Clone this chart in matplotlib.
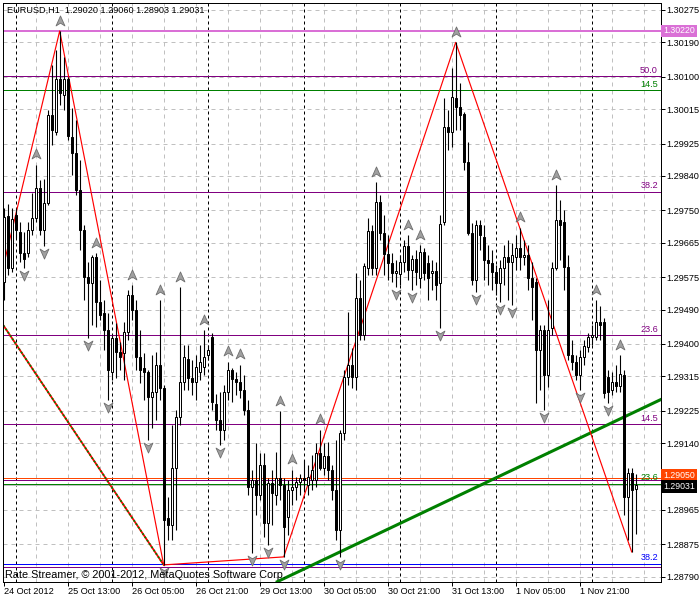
import matplotlib
matplotlib.use("Agg")
import matplotlib.pyplot as plt
from matplotlib.path import Path
from matplotlib.transforms import blended_transform_factory, offset_copy
import numpy as np

plt.rcParams['font.family'] = ['Liberation Sans', 'DejaVu Sans']

# ---------------- data (EURUSD H1) ----------------
opens = [
    1.29562, 1.29735, 1.29599, 1.29738, 1.29693, 1.29638, 1.29638, 1.29698, 1.29730, 1.29808,
    1.29698, 1.29769, 1.29999, 1.29955, 1.30094, 1.30052, 1.30094, 1.29942, 1.29900, 1.29803,
    1.29698, 1.29575, 1.29560, 1.29627, 1.29510, 1.29481, 1.29436, 1.29326, 1.29415, 1.29379,
    1.29376, 1.29431, 1.29527, 1.29489, 1.29366, 1.29337, 1.29326, 1.29261, 1.29274, 1.29345,
    1.29284, 1.28944, 1.28925, 1.29075, 1.29209, 1.29300, 1.29360, 1.29311, 1.29300, 1.29326,
    1.29339, 1.29371, 1.29418, 1.29243, 1.29201, 1.29175, 1.29274, 1.29332, 1.29308, 1.29300,
    1.29279, 1.29227, 1.29025, 1.29043, 1.29004, 1.29083, 1.28931, 1.29036, 1.29004, 1.29049,
    1.29030, 1.28946, 1.29017, 1.29025, 1.29038, 1.29049, 1.29030, 1.29043, 1.29043, 1.29114,
    1.29075, 1.29106, 1.29070, 1.29017, 1.28912, 1.29167, 1.29313, 1.29345, 1.29313, 1.29519,
    1.29423, 1.29599, 1.29696, 1.29599, 1.29772, 1.29691, 1.29635, 1.29612, 1.29586, 1.29583,
    1.29614, 1.29656, 1.29593, 1.29622, 1.29573, 1.29641, 1.29612, 1.29586, 1.29591, 1.29560,
    1.29719, 1.29968, 1.29955, 1.30044, 1.30021, 1.30002, 1.29877, 1.29691, 1.29567, 1.29711,
    1.29680, 1.29619, 1.29612, 1.29588, 1.29560, 1.29599, 1.29627, 1.29614, 1.29627, 1.29651,
    1.29627, 1.29633, 1.29573, 1.29562, 1.29384, 1.29436, 1.29319, 1.29442, 1.29599, 1.29725,
    1.29719, 1.29601, 1.29371, 1.29353, 1.29319, 1.29366, 1.29392, 1.29418, 1.29418, 1.29457,
    1.29457, 1.29313, 1.29279, 1.29300, 1.29290, 1.29319, 1.28999, 1.29062, 1.29020]
highs = [
    1.29756, 1.29767, 1.29756, 1.29756, 1.29719, 1.29693, 1.29719, 1.29795, 1.29869, 1.29829,
    1.29832, 1.30013, 1.30131, 1.30170, 1.30220, 1.30152, 1.30099, 1.30018, 1.29987, 1.29882,
    1.29711, 1.29614, 1.29633, 1.29638, 1.29567, 1.29515, 1.29481, 1.29423, 1.29455, 1.29405,
    1.29457, 1.29540, 1.29554, 1.29515, 1.29436, 1.29376, 1.29332, 1.29371, 1.29379, 1.29515,
    1.29292, 1.28999, 1.29188, 1.29227, 1.29549, 1.29397, 1.29397, 1.29358, 1.29371, 1.29397,
    1.29436, 1.29397, 1.29429, 1.29269, 1.29274, 1.29292, 1.29353, 1.29337, 1.29326, 1.29345,
    1.29319, 1.29253, 1.29070, 1.29140, 1.29114, 1.29114, 1.29049, 1.29070, 1.29117, 1.29224,
    1.29049, 1.29043, 1.29070, 1.29051, 1.29059, 1.29096, 1.29083, 1.29109, 1.29140, 1.29175,
    1.29140, 1.29143, 1.29083, 1.29148, 1.29175, 1.29332, 1.29484, 1.29389, 1.29586, 1.29567,
    1.29612, 1.29730, 1.29711, 1.29824, 1.29790, 1.29738, 1.29685, 1.29638, 1.29619, 1.29633,
    1.29672, 1.29685, 1.29633, 1.29646, 1.29659, 1.29651, 1.29633, 1.29619, 1.29614, 1.29738,
    1.30044, 1.30013, 1.30123, 1.30190, 1.30084, 1.30008, 1.29929, 1.29717, 1.29725, 1.29725,
    1.29711, 1.29659, 1.29646, 1.29607, 1.29619, 1.29659, 1.29672, 1.29664, 1.29685, 1.29704,
    1.29672, 1.29659, 1.29614, 1.29573, 1.29450, 1.29450, 1.29515, 1.29614, 1.29816, 1.29777,
    1.29751, 1.29633, 1.29410, 1.29371, 1.29384, 1.29410, 1.29429, 1.29450, 1.29515, 1.29499,
    1.29468, 1.29332, 1.29326, 1.29345, 1.29371, 1.29332, 1.29075, 1.29075, 1.29060]
lows = [
    1.29515, 1.29580, 1.29588, 1.29677, 1.29614, 1.29599, 1.29627, 1.29685, 1.29719, 1.29685,
    1.29656, 1.29764, 1.29921, 1.29947, 1.30026, 1.30013, 1.29934, 1.29843, 1.29790, 1.29646,
    1.29515, 1.29415, 1.29450, 1.29444, 1.29463, 1.29384, 1.29253, 1.29305, 1.29311, 1.29332,
    1.29305, 1.29410, 1.29463, 1.29332, 1.29298, 1.29253, 1.29148, 1.29180, 1.29201, 1.29253,
    1.28821, 1.28886, 1.28886, 1.28912, 1.29188, 1.29279, 1.29279, 1.29266, 1.29253, 1.29305,
    1.29319, 1.29358, 1.29227, 1.29175, 1.29135, 1.29148, 1.29253, 1.29248, 1.29266, 1.29258,
    1.29214, 1.29004, 1.28852, 1.28952, 1.28991, 1.28894, 1.28873, 1.28925, 1.28978, 1.28991,
    1.28842, 1.28899, 1.28978, 1.28991, 1.29004, 1.29017, 1.29004, 1.29017, 1.29025, 1.29070,
    1.29057, 1.29043, 1.28991, 1.28886, 1.28842, 1.29148, 1.29292, 1.29284, 1.29279, 1.29410,
    1.29410, 1.29580, 1.29580, 1.29580, 1.29672, 1.29580, 1.29567, 1.29562, 1.29549, 1.29554,
    1.29588, 1.29567, 1.29540, 1.29554, 1.29546, 1.29567, 1.29515, 1.29540, 1.29515, 1.29442,
    1.29711, 1.29908, 1.29916, 1.29960, 1.29960, 1.29856, 1.29685, 1.29554, 1.29536, 1.29646,
    1.29567, 1.29554, 1.29540, 1.29527, 1.29510, 1.29554, 1.29515, 1.29502, 1.29593, 1.29593,
    1.29607, 1.29540, 1.29463, 1.29245, 1.29279, 1.29227, 1.29287, 1.29423, 1.29593, 1.29619,
    1.29540, 1.29358, 1.29332, 1.29305, 1.29279, 1.29345, 1.29379, 1.29397, 1.29410, 1.29410,
    1.29258, 1.29245, 1.29266, 1.29274, 1.29274, 1.28952, 1.28886, 1.28855, 1.28903]
closes = [
    1.29732, 1.29599, 1.29727, 1.29698, 1.29638, 1.29622, 1.29698, 1.29730, 1.29808, 1.29698,
    1.29769, 1.29999, 1.29960, 1.30094, 1.30057, 1.30094, 1.29945, 1.29900, 1.29803, 1.29698,
    1.29575, 1.29560, 1.29627, 1.29510, 1.29476, 1.29436, 1.29332, 1.29415, 1.29379, 1.29366,
    1.29431, 1.29527, 1.29489, 1.29366, 1.29332, 1.29326, 1.29261, 1.29274, 1.29345, 1.29284,
    1.28939, 1.28925, 1.29075, 1.29209, 1.29300, 1.29366, 1.29311, 1.29300, 1.29339, 1.29353,
    1.29366, 1.29384, 1.29248, 1.29201, 1.29175, 1.29274, 1.29332, 1.29308, 1.29300, 1.29279,
    1.29227, 1.29025, 1.29043, 1.29004, 1.29083, 1.28931, 1.29036, 1.29009, 1.29049, 1.29030,
    1.28920, 1.29017, 1.29025, 1.29038, 1.29049, 1.29043, 1.29051, 1.29070, 1.29114, 1.29075,
    1.29106, 1.29070, 1.29017, 1.28912, 1.29167, 1.29313, 1.29345, 1.29313, 1.29519, 1.29423,
    1.29604, 1.29696, 1.29599, 1.29772, 1.29691, 1.29635, 1.29612, 1.29586, 1.29591, 1.29614,
    1.29656, 1.29593, 1.29622, 1.29588, 1.29641, 1.29586, 1.29573, 1.29591, 1.29554, 1.29714,
    1.29968, 1.29955, 1.30047, 1.30021, 1.29999, 1.29877, 1.29691, 1.29567, 1.29711, 1.29685,
    1.29619, 1.29612, 1.29588, 1.29560, 1.29599, 1.29627, 1.29614, 1.29633, 1.29651, 1.29627,
    1.29633, 1.29573, 1.29549, 1.29384, 1.29436, 1.29319, 1.29436, 1.29599, 1.29725, 1.29711,
    1.29601, 1.29371, 1.29353, 1.29319, 1.29366, 1.29395, 1.29418, 1.29423, 1.29457, 1.29450,
    1.29271, 1.29274, 1.29300, 1.29290, 1.29321, 1.28999, 1.29062, 1.29017, 1.29031]

x_label_bars = [0, 16, 32, 48, 64, 80, 96, 112, 128, 144]
x_labels = ["24 Oct 2012", "25 Oct 13:00", "26 Oct 05:00", "26 Oct 21:00", "29 Oct 13:00",
            "30 Oct 05:00", "30 Oct 21:00", "31 Oct 13:00", "1 Nov 05:00", "1 Nov 21:00"]
grid_bars = list(range(8, 164, 8))
day_start_bars = [3, 27, 51, 75, 99, 123, 147]
y_ticks = [1.30275, 1.30190, 1.30100, 1.30015, 1.29925, 1.29840, 1.29750, 1.29665, 1.29575,
           1.29490, 1.29400, 1.29315, 1.29225, 1.29140, 1.29050, 1.28965, 1.28875, 1.28790]

fractal_up_bars = [8, 14, 23, 32, 39, 44, 50, 56, 59, 69, 72, 79, 93, 101, 104, 113, 129, 138, 148, 154]
fractal_down_bars = [5, 10, 21, 26, 36, 40, 54, 62, 66, 70, 84, 98, 102, 109, 118, 124, 127, 135, 144, 151]

zigzag_bars = [-3, 14, 40, 70, 113, 157]
zigzag_prices = [1.29476, 1.30220, 1.28821, 1.28842, 1.30190, 1.28855]

trend1_bars = [-10, 40]
trend1_prices = [1.29604, 1.28821]
trend2_bars = [70, 158]
trend2_prices = [1.28785, 1.29223]

level_prices = [1.30220, 1.30101, 1.30065, 1.29799, 1.29423, 1.29189, 1.29050, 1.29043, 1.29034, 1.28824, 1.28816]
level_colors = ['#DA70D6', '#800080', '#008000', '#800080', '#800080', '#800080',
                '#FF4500', '#800080', '#008000', '#0000FF', '#800080']
level_labels = ['', '50.0', '14.5', '38.2', '23.6', '14.5', '', '', '23.6', '38.2', '']
bid_price = 1.29031
symbol = "EURUSD,H1"

# ---------------- figure ----------------
fig = plt.figure(figsize=(7, 6), dpi=100)
fig.patch.set_facecolor('white')
ax = fig.add_axes([2.7 / 700, 18.3 / 600, 657.8 / 700, 579.0 / 600])
ax.set_facecolor('white')
n = len(opens)
idx = np.arange(n)
o = np.array(opens); h = np.array(highs); l = np.array(lows); c = np.array(closes)

ax.set_xlim(-0.25, 164.2)
ax.set_ylim(1.28777, 1.30294)

PX = 0.72  # one pixel in points
for b in grid_bars:
    ax.axvline(b, color='#c0c0c0', lw=PX, ls=(0, (4, 4)), zorder=0.5)
for p in y_ticks:
    ax.axhline(p, color='#c0c0c0', lw=PX, ls=(0, (4, 4)), zorder=0.5)
for b in day_start_bars:
    ax.axvline(b, color='black', lw=PX, ls=(0, (3, 3)), zorder=0.6)

ax.axhline(bid_price, color='#c0c0c0', lw=PX, zorder=1)
ltrans = offset_copy(blended_transform_factory(ax.transAxes, ax.transData), fig=fig, y=1.0, units='points')
for p, col, lab in zip(level_prices, level_colors, level_labels):
    ax.axhline(p, color=col, lw=(2 * PX if col == '#DA70D6' else PX), zorder=1.2)
    if lab:
        ax.text(0.996, p, lab, color=col, fontsize=6.6, ha='right', va='bottom',
                transform=ltrans, zorder=6)

# trend lines and zigzag
ax.plot(trend1_bars, trend1_prices, color='red', lw=1.3, zorder=1.5)
ax.plot(trend1_bars, trend1_prices, color='#008000', lw=1.3, ls=(0, (1, 1.2)), zorder=1.6)
ax.axline((trend2_bars[0], trend2_prices[0]), (trend2_bars[1], trend2_prices[1]),
          color='#008000', lw=2.2, zorder=1.7)
ax.plot(zigzag_bars, zigzag_prices, color='red', lw=0.85, zorder=1.8)

# candles
ax.vlines(idx, l, h, color='black', lw=PX * 1.1, zorder=3)
bull = c >= o
ax.bar(idx, np.abs(c - o), bottom=np.minimum(o, c), width=0.5,
       color=np.where(bull, 'white', 'black'), edgecolor='black', linewidth=PX, zorder=4)

# fractals
up_marker = Path([(0, 1), (0.8, -0.8), (0, -0.3), (-0.8, -0.8), (0, 1)],
                 [Path.MOVETO, Path.LINETO, Path.LINETO, Path.LINETO, Path.CLOSEPOLY])
down_marker = Path([(0, -1), (0.8, 0.8), (0, 0.3), (-0.8, 0.8), (0, -1)],
                   [Path.MOVETO, Path.LINETO, Path.LINETO, Path.LINETO, Path.CLOSEPOLY])
ub = np.array(fractal_up_bars); db = np.array(fractal_down_bars)
ax.plot(ub, h[ub], ls='none', marker=up_marker, ms=8, mfc='#a0a0a0', mec='#6e6e6e', mew=0.6,
        transform=offset_copy(ax.transData, fig=fig, y=7.5, units='points'), zorder=5)
ax.plot(db, l[db], ls='none', marker=down_marker, ms=8, mfc='#a0a0a0', mec='#6e6e6e', mew=0.6,
        transform=offset_copy(ax.transData, fig=fig, y=-5.0, units='points'), zorder=5)

# axes styling
for s in ax.spines.values():
    s.set_linewidth(PX)
    s.set_color('black')
box_prices = [level_prices[0], level_prices[6], bid_price]
ax.yaxis.tick_right()
ax.set_yticks(y_ticks)
# tick labels hidden behind a price box are left blank (the box shows the value)
ax.set_yticklabels(['' if any(abs(v - bp) < 0.00012 for bp in box_prices[1:]) else f'{v:.5f}'
                    for v in y_ticks])
ax.tick_params(axis='y', length=3, width=PX, pad=1.5, labelsize=6.6, direction='out')
ax.set_xticks(x_label_bars)
ax.set_xticklabels(x_labels)
ax.tick_params(axis='x', length=3, width=PX, pad=1.0, labelsize=6.6, direction='out')
for t in ax.get_xticklabels():
    t.set_ha('left')

# price boxes on the axis
btrans = blended_transform_factory(ax.transAxes, ax.transData)
box_colors = ['#DA70D6', '#FF4500', 'black']
box_shift = [0.0, 1.6, -1.4]
for p, fc, dy in zip(box_prices, box_colors, box_shift):
    tr = offset_copy(btrans, fig=fig, y=dy, units='points')
    ax.text(1.004, p, f'{p:.5f}', transform=tr, ha='left', va='center', color='white',
            fontsize=6.3, bbox=dict(boxstyle='square,pad=0.22', fc=fc, ec='none'),
            zorder=10, clip_on=False)

fig.text(7 / 700, 1 - 10 / 600,
         f'{symbol}  {opens[-1]:.5f} {highs[-1]:.5f} {lows[-1]:.5f} {closes[-1]:.5f}',
         va='center', ha='left', fontsize=6.6, color='black')
fig.text(5 / 700, 1 - 578 / 600, 'Rate Streamer, \u00a9 2001-2012, MetaQuotes Software Corp.',
         va='baseline', ha='left', fontsize=7.8, color='black')

fig.savefig('out.png', dpi=100, facecolor='white')
